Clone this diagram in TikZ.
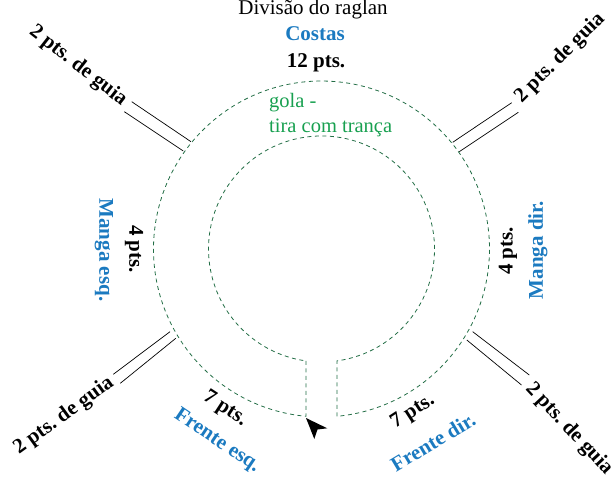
\documentclass[tikz,border=0pt]{standalone}
\usepackage{fontspec}
\setmainfont{Liberation Serif}
\frenchspacing
\definecolor{lblblue}{RGB}{27,122,192}
\definecolor{golagreen}{RGB}{24,160,80}
\definecolor{dashgreen}{RGB}{35,110,70}
\begin{document}
\begin{tikzpicture}[x=1pt,y=-1pt,
  lbl/.style={font=\fontsize{21}{24}\selectfont\bfseries, inner sep=0pt},
  part/.style={lbl, text=lblblue},
  cnt/.style={lbl, text=black},
  guide/.style={draw=black, line width=0.7pt},
  neck/.style={draw=dashgreen, line width=0.8pt, dash pattern=on 4pt off 3.5pt},
  gtext/.style={font=\fontsize{20.5}{24}\selectfont, text=golagreen, inner sep=0pt, anchor=base west}]
\useasboundingbox (0,0) rectangle (613,481);
\coordinate (c) at (321.5,249);
% neck opening
\draw[neck] (306,360.9) -- (306,416.3)
  arc[start angle=95.29, end angle=444.71, radius=168]
  -- (337,360.9)
  arc[start angle=82.12, end angle=-262.12, radius=113];
% start arrow
\fill[black] (306,418) -- (327.3,428.3) -- (317.5,429.5) -- (314.3,439) -- cycle;
% raglan guide lines
\draw[guide] (131.7,101.7) -- (191,141.7);
\draw[guide] (124.3,111.7) -- (183.3,151);
\draw[guide] (511.7,102.7) -- (452.7,142.3);
\draw[guide] (518.3,112.3) -- (459.3,151.7);
\draw[guide] (170,331.7) -- (113.3,374.3);
\draw[guide] (175.8,338.3) -- (120.3,383.3);
\draw[guide] (472.7,331.7) -- (529.3,375);
\draw[guide] (466.8,340) -- (521.5,385);
% titles
\node[font=\fontsize{21}{24}\selectfont, inner sep=0pt, anchor=base] (title) at (313,14.5) {Divisão do raglan};
\node[part, anchor=base] (costas) at (315,41) {Costas};
\node[cnt, anchor=base] (c12) at (316,68) {12 pts.};
\node[gtext] (gola1) at (269,108) {gola -};
\node[gtext] (gola2) at (269,133) {tira com trança};
% guide labels
\node[cnt, rotate=-38] (gUL) at (78,66) {2 pts. de guia};
\node[cnt, rotate=45] (gUR) at (560,58) {2 pts. de guia};
\node[cnt, rotate=36] (gLL) at (64,416) {2 pts. de guia};
\node[cnt, rotate=-47] (gLR) at (569,429) {2 pts. de guia};
% sleeves
\node[part, rotate=-90] (mesq) at (104,250) {Manga esq.};
\node[cnt, rotate=-90] (c4l) at (134,249) {4 pts.};
\node[cnt, rotate=90] (c4r) at (508,251) {4 pts.};
\node[part, rotate=90] (mdir) at (538,250) {Manga dir.};
% fronts
\node[cnt, rotate=-33] (c7l) at (225,409) {7 pts.};
\node[part, rotate=-34] (fesq) at (217,441) {Frente esq.};
\node[cnt, rotate=33] (c7r) at (413,412) {7 pts.};
\node[part, rotate=31] (fdir) at (433,442) {Frente dir.};
\end{tikzpicture}
\end{document}
